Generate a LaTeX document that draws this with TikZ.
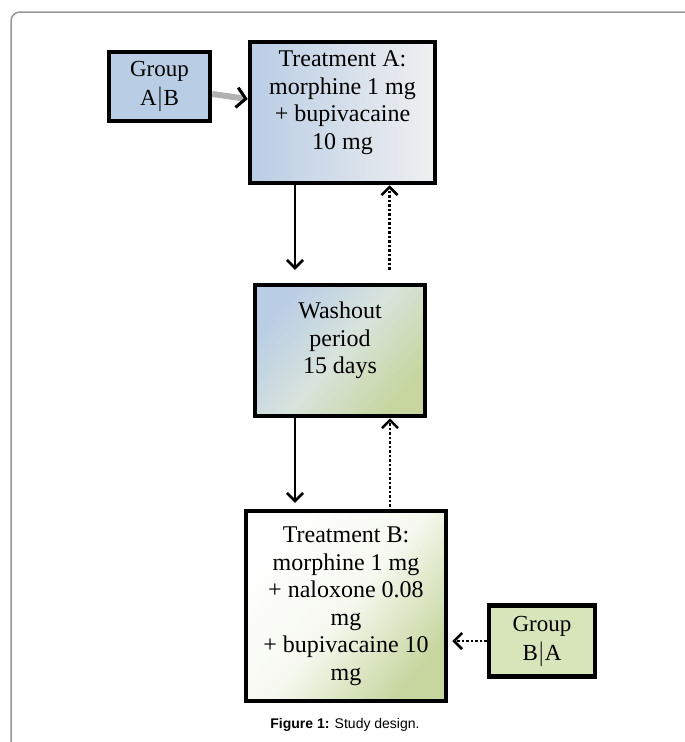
\documentclass[tikz,border=0pt]{standalone}
\usepackage{fontspec}
\setmainfont{Liberation Serif}
\newfontfamily\capfont{Liberation Sans}
\usepackage{tikz}
\usetikzlibrary{arrows.meta}
\definecolor{blueA}{RGB}{185,205,229}
\definecolor{greenA}{RGB}{198,214,158}
\definecolor{greenB}{RGB}{216,229,186}
\definecolor{frameGray}{RGB}{150,150,150}
\tikzset{
	box/.style 2 args={draw,line width=4.5pt,align=center,minimum width=#1,minimum height=#2,inner sep=2pt,font=\fontsize{24}{27.5}\selectfont},
	group/.style={font=\fontsize{23}{29}\selectfont},
	flow/.style={line width=2pt,-{Straight Barb[length=8pt,width=16pt,line width=2.5pt]}},
	back/.style={line width=2.5pt,dotted,-{Straight Barb[length=8pt,width=16pt,line width=2.5pt]}}
}
\begin{document}
\begin{tikzpicture}[x=1pt,y=-1pt]
						\useasboundingbox (0,0) rectangle (685,742);
						\draw [frameGray,line width=1.5pt,rounded corners=9pt] (686,12) -- (11,12) -- (11,743);

						\node [box={101pt}{69pt},group,fill=blueA] (grpAB) at (159.5,86.5) {Group\\A$|$B};
						\node [box={185pt}{141pt},left color=blueA,right color=white!94!black,text depth=25pt] (treatA) at (342.5,112.5) {Treatment A:\\morphine 1 mg\\+ bupivacaine\\10 mg};
						\node [box={170pt}{131pt},top color=blueA,bottom color=greenA,middle color=greenA!45!blueA!60!white,shading angle=50,text depth=25pt] (washout) at (340,350.5) {Washout\\period\\15 days};
						\node [box={200pt}{190pt},top color=white,bottom color=greenA,middle color=white!85!greenA,shading angle=50] (treatB) at (346,606) {Treatment B:\\morphine 1 mg\\+ naloxone 0.08\\mg\\+ bupivacaine 10\\mg};
						\node [box={106pt}{71pt},group,fill=greenB] (grpBA) at (542,641) {Group\\B$|$A};

						\draw [line width=6pt,gray!60,-{Straight Barb[length=9pt,width=20pt,line width=3pt,black]}] (grpAB) -- (treatA);
						\draw [flow,shorten >=13pt] ([xshift=-47.5pt]treatA.south) -- ([xshift=-47.5pt]treatA.south |- washout.north);
						\draw [back,shorten <=13pt] ([xshift=47pt]treatA.south |- washout.north) -- ([xshift=47pt]treatA.south);
						\draw [flow,shorten >=6pt] ([xshift=-45pt]washout.south) -- ([xshift=-45pt]washout.south |- treatB.north);
						\draw [back,shorten <=2pt] ([xshift=50pt]washout.south |- treatB.north) -- ([xshift=50pt]washout.south);
						\draw [back,shorten >=4pt] (grpBA.west) -- (grpBA.west -| treatB.east);

						\node [font=\capfont\fontsize{14}{16}\selectfont] (caption) at (345,725) {\textbf{Figure 1:} Study design.};
					\end{tikzpicture}
\end{document}
